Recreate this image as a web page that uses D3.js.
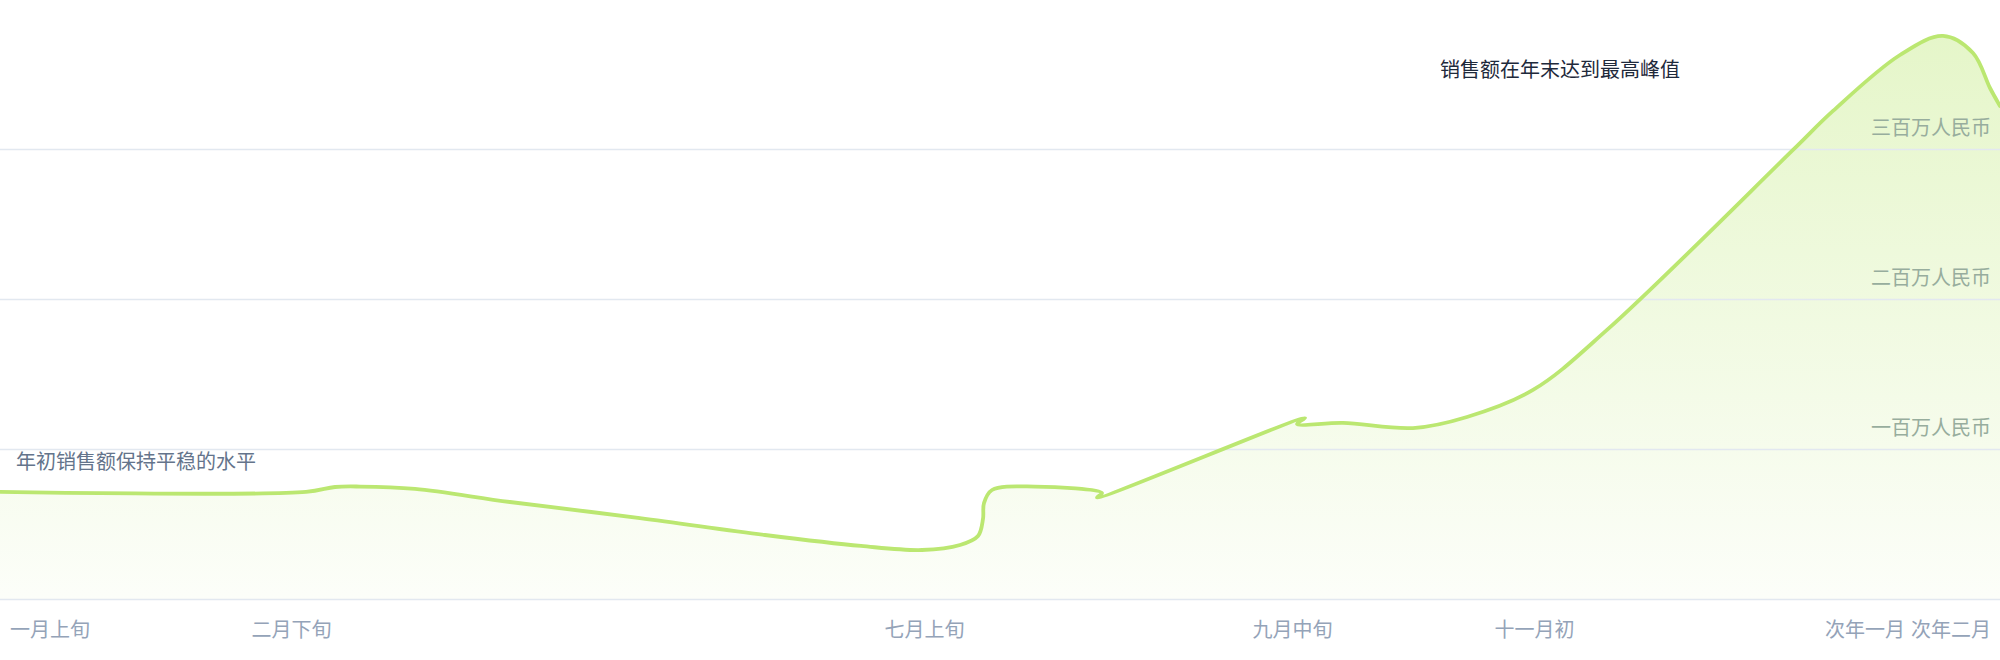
<!DOCTYPE html>
<html>
<head>
<meta charset="utf-8">
<script src="https://cdn.jsdelivr.net/npm/d3@7"></script>
<style>
  html, body { margin: 0; padding: 0; background: #fff; }
  svg { display: block; font-family: "Noto Sans CJK SC", "Noto Sans", sans-serif; }
</style>
</head>
<body>
<div id="chart"></div>
<script>
// data (day index, value)
const days = [0, 61.2, 67, 72, 83, 102, 128, 153, 172.2, 184.4, 192, 195.6, 196.6, 196.8, 198.4,
  207, 220.4, 219.4, 261, 259.4, 268.6, 282.6, 293.4, 306.6, 321.4, 358.6, 366.6, 380, 388.6,
  394.6, 398, 400];
const values = [71700, 71700, 75000, 75300, 73700, 65000, 54300, 43000, 35700, 33000, 36300,
  42300, 53700, 64300, 73000, 75300, 71000, 68000, 121000, 117000, 117700, 114300, 121700,
  139700, 179700, 299700, 325700, 363000, 375700, 364300, 341000, 329000];

const xTickDays = [0, 58.3, 184.9, 258.5, 306.9, 380.9, 400];
const xTickLabels = ["一月上旬", "二月下旬", "七月上旬", "九月中旬", "十一月初", "次年一月", "次年二月"];
const yTickValues = [100000, 200000, 300000];
const yTickLabels = ["一百万人民币", "二百万人民币", "三百万人民币"];
const titleText = "销售额在年末达到最高峰值";
const startNote = "年初销售额保持平稳的水平";

const width = 2000;
const height = 660;
const lineColor = "#bbe771";

const data = days.map((d, i) => ({ day: d, value: values[i] }));

const svg = d3.select("#chart")
  .append("svg")
  .attr("width", width)
  .attr("height", height);

const x = d3.scaleLinear().domain([0, 400]).range([0, width]);
const y = d3.scaleLinear().domain([0, 400000]).range([599.5, -0.5]);

// gradient under the line
const grad = svg.append("defs").append("linearGradient")
  .attr("id", "areaFill")
  .attr("gradientUnits", "userSpaceOnUse")
  .attr("x1", 0).attr("x2", 0)
  .attr("y1", y(d3.max(values))).attr("y2", y(0));
grad.append("stop").attr("offset", 0).attr("stop-color", lineColor).attr("stop-opacity", 0.38);
grad.append("stop").attr("offset", 1).attr("stop-color", lineColor).attr("stop-opacity", 0.04);

const curve = d3.curveCatmullRom;

svg.append("path")
  .datum(data)
  .attr("fill", "url(#areaFill)")
  .attr("d", d3.area().x(d => x(d.day)).y0(y(0)).y1(d => y(d.value)).curve(curve));

// grid lines
svg.append("g").selectAll("line")
  .data([0, ...yTickValues])
  .enter()
  .append("line")
  .attr("x1", 0)
  .attr("x2", width)
  .attr("y1", d => y(d))
  .attr("y2", d => y(d))
  .attr("stroke", "#e2e8f0")
  .attr("stroke-width", 1.5);

svg.append("path")
  .datum(data)
  .attr("fill", "none")
  .attr("stroke", lineColor)
  .attr("stroke-width", 3.8)
  .attr("stroke-linejoin", "round")
  .attr("stroke-linecap", "round")
  .attr("d", d3.line().x(d => x(d.day)).y(d => y(d.value)).curve(curve));

// y labels, right side above each grid line
svg.append("g").selectAll("text")
  .data(yTickValues)
  .enter()
  .append("text")
  .attr("x", width - 9)
  .attr("y", d => y(d) - 15)
  .attr("text-anchor", "end")
  .attr("font-size", 20)
  .attr("fill", "#97ad9d")
  .text((d, i) => yTickLabels[i]);

// x labels, kept inside the frame and pushed apart when they collide
const xl = svg.append("g").selectAll("text")
  .data(xTickDays)
  .enter()
  .append("text")
  .attr("y", 637)
  .attr("text-anchor", "start")
  .attr("font-size", 20)
  .attr("fill", "#94a3b8")
  .text((d, i) => xTickLabels[i]);

const nodes = xl.nodes();
const lefts = nodes.map((n, i) => {
  const w = n.getComputedTextLength();
  return Math.max(10, Math.min(width - 9 - w, x(xTickDays[i]) - w / 2));
});
for (let i = nodes.length - 2; i >= 0; i--) {
  const w = nodes[i].getComputedTextLength();
  if (lefts[i] + w + 6 > lefts[i + 1]) lefts[i] = lefts[i + 1] - w - 6;
}
xl.attr("x", (d, i) => lefts[i]);

// annotations
svg.append("text")
  .attr("x", 1440)
  .attr("y", 77)
  .attr("font-size", 20)
  .attr("fill", "#1e293b")
  .text(titleText);

svg.append("text")
  .attr("x", 16)
  .attr("y", 469)
  .attr("font-size", 20)
  .attr("fill", "#64748b")
  .text(startNote);
</script>
</body>
</html>
